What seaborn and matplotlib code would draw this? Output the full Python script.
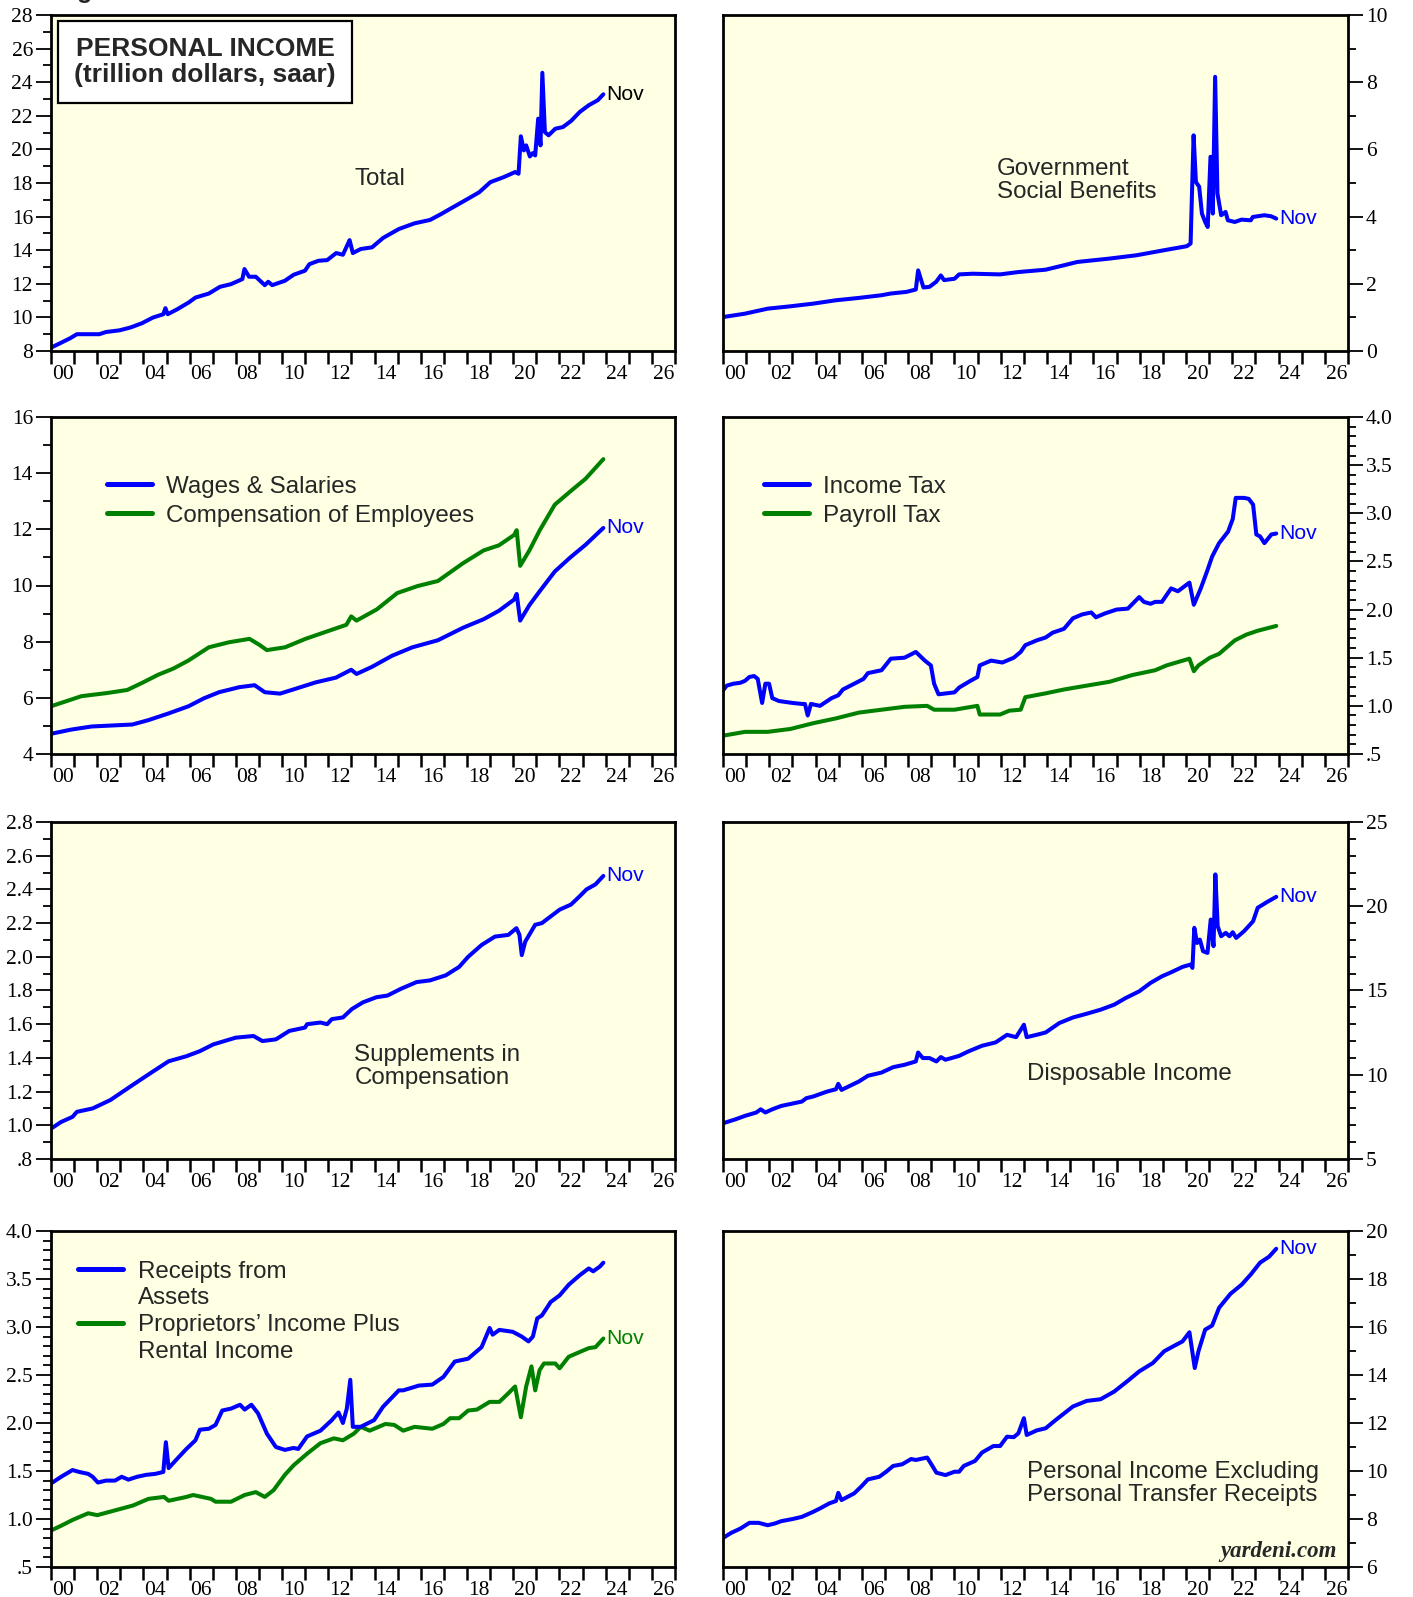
import matplotlib
matplotlib.use("Agg")
import matplotlib.pyplot as plt
import seaborn as sns
from matplotlib.ticker import MultipleLocator, FixedLocator, FixedFormatter, NullFormatter, FuncFormatter
from matplotlib.lines import Line2D

# =========================
# Data (decimal years)
# =========================
year_labels = ["00", "02", "04", "06", "08", "10", "12", "14", "16", "18", "20", "22", "24", "26"]

total_x = [2000.0, 2000.45, 2000.83, 2001.12, 2002.09, 2002.38, 2002.96, 2003.44, 2003.93, 2004.41,
           2004.86, 2004.95, 2005.05, 2005.47, 2005.96, 2006.25, 2006.83, 2007.31, 2007.79, 2008.28,
           2008.37, 2008.57, 2008.86, 2009.25, 2009.4, 2009.57, 2010.12, 2010.5, 2010.99, 2011.18,
           2011.57, 2011.95, 2012.34, 2012.63, 2012.92, 2013.06, 2013.4, 2013.89, 2014.37, 2015.05,
           2015.73, 2016.4, 2016.89, 2017.27, 2017.95, 2018.53, 2019.01, 2019.59, 2020.08, 2020.23,
           2020.33, 2020.46, 2020.56, 2020.72, 2020.85, 2020.95, 2021.08, 2021.18, 2021.26, 2021.37,
           2021.53, 2021.82, 2022.15, 2022.5, 2022.88, 2023.27, 2023.66, 2023.9]
total_y = [8.2, 8.5, 8.76, 9.0, 9.0, 9.13, 9.23, 9.4, 9.65, 9.99,
           10.19, 10.55, 10.19, 10.49, 10.89, 11.18, 11.42, 11.82, 11.98, 12.28,
           12.88, 12.42, 12.42, 11.92, 12.12, 11.92, 12.18, 12.54, 12.78, 13.17,
           13.37, 13.41, 13.83, 13.73, 14.6, 13.83, 14.07, 14.17, 14.73, 15.26,
           15.6, 15.8, 16.16, 16.46, 16.99, 17.45, 18.05, 18.35, 18.65, 18.55,
           20.78, 19.94, 20.24, 19.58, 19.78, 19.64, 21.83, 20.24, 24.56, 21.03,
           20.84, 21.23, 21.33, 21.69, 22.23, 22.63, 22.93, 23.28]

gov_x = [2000.0, 2000.94, 2001.93, 2002.91, 2003.9, 2004.88, 2005.87, 2006.85, 2007.24, 2007.93,
         2008.33, 2008.43, 2008.66, 2008.92, 2009.21, 2009.41, 2009.55, 2010.0, 2010.2, 2010.79,
         2011.97, 2012.76, 2013.94, 2014.72, 2015.31, 2016.69, 2017.87, 2019.06, 2020.04, 2020.2,
         2020.33, 2020.43, 2020.57, 2020.69, 2020.83, 2020.94, 2021.06, 2021.16, 2021.26, 2021.36,
         2021.52, 2021.71, 2021.81, 2022.11, 2022.4, 2022.8, 2022.89, 2023.39, 2023.68, 2023.9]
gov_y = [1.01, 1.11, 1.26, 1.33, 1.41, 1.51, 1.58, 1.66, 1.71, 1.76,
         1.83, 2.40, 1.89, 1.91, 2.06, 2.25, 2.11, 2.15, 2.28, 2.30,
         2.28, 2.35, 2.42, 2.55, 2.65, 2.75, 2.85, 3.0, 3.12, 3.2,
         6.42, 5.03, 4.89, 4.09, 3.84, 3.69, 5.78, 4.09, 8.16, 4.69,
         4.04, 4.14, 3.89, 3.84, 3.91, 3.89, 3.99, 4.04, 4.01, 3.94]

wages_x = [2000.0, 2000.88, 2001.76, 2003.52, 2004.19, 2005.07, 2005.95, 2006.61, 2007.27, 2008.15,
           2008.81, 2009.25, 2009.91, 2010.57, 2011.45, 2012.33, 2012.99, 2013.22, 2013.88, 2014.76,
           2015.64, 2016.74, 2017.84, 2018.72, 2019.38, 2020.04, 2020.15, 2020.3, 2020.7, 2021.15,
           2021.8, 2022.47, 2023.13, 2023.9]
wages_y = [4.72, 4.87, 4.98, 5.05, 5.2, 5.44, 5.7, 5.98, 6.2, 6.38,
           6.45, 6.2, 6.15, 6.32, 6.55, 6.72, 7.0, 6.85, 7.1, 7.5,
           7.8, 8.05, 8.5, 8.8, 9.1, 9.5, 9.7, 8.75, 9.3, 9.8,
           10.5, 11.0, 11.45, 12.05]

comp_x = [2000.0, 2000.66, 2001.32, 2002.42, 2003.3, 2003.96, 2004.63, 2005.29, 2005.95, 2006.83,
          2007.71, 2008.59, 2009.03, 2009.34, 2010.13, 2011.01, 2011.89, 2012.78, 2012.99, 2013.22,
          2014.1, 2014.98, 2015.86, 2016.74, 2017.84, 2018.72, 2019.38, 2020.04, 2020.15, 2020.3,
          2020.7, 2021.15, 2021.8, 2022.47, 2023.13, 2023.9]
comp_y = [5.7, 5.88, 6.06, 6.17, 6.28, 6.54, 6.82, 7.04, 7.33, 7.8,
          7.98, 8.1, 7.88, 7.7, 7.8, 8.1, 8.35, 8.6, 8.9, 8.75,
          9.15, 9.73, 9.98, 10.16, 10.8, 11.25, 11.43, 11.8, 11.97, 10.7,
          11.25, 11.97, 12.88, 13.35, 13.8, 14.5]

itax_x = [2000.0, 2000.16, 2000.45, 2000.75, 2000.95, 2001.14, 2001.34, 2001.5, 2001.69, 2001.83,
          2001.99, 2002.13, 2002.42, 2003.01, 2003.41, 2003.54, 2003.66, 2003.8, 2004.19, 2004.69,
          2004.98, 2005.18, 2005.67, 2006.07, 2006.26, 2006.85, 2007.25, 2007.84, 2008.33, 2008.72,
          2008.98, 2009.12, 2009.31, 2010.0, 2010.2, 2010.69, 2010.99, 2011.09, 2011.58, 2012.07,
          2012.56, 2012.86, 2013.06, 2013.55, 2013.94, 2014.24, 2014.73, 2015.12, 2015.52, 2015.91,
          2016.11, 2016.5, 2017.0, 2017.49, 2017.98, 2018.18, 2018.47, 2018.67, 2018.96, 2019.36,
          2019.65, 2020.15, 2020.34, 2020.64, 2020.93, 2021.13, 2021.43, 2021.82, 2022.02, 2022.15,
          2022.51, 2022.71, 2022.9, 2023.04, 2023.2, 2023.39, 2023.69, 2023.9]
itax_y = [1.16, 1.21, 1.23, 1.24, 1.26, 1.30, 1.31, 1.28, 1.03, 1.23,
          1.23, 1.08, 1.05, 1.03, 1.02, 1.02, 0.90, 1.02, 1.00, 1.08,
          1.11, 1.17, 1.23, 1.28, 1.34, 1.37, 1.49, 1.50, 1.56, 1.47,
          1.42, 1.23, 1.12, 1.14, 1.19, 1.26, 1.30, 1.42, 1.47, 1.45,
          1.50, 1.56, 1.63, 1.68, 1.71, 1.76, 1.80, 1.91, 1.95, 1.97,
          1.92, 1.96, 2.00, 2.01, 2.13, 2.08, 2.06, 2.08, 2.08, 2.22,
          2.19, 2.28, 2.05, 2.22, 2.41, 2.55, 2.69, 2.81, 2.94, 3.16,
          3.16, 3.15, 3.09, 2.78, 2.76, 2.69, 2.78, 2.79]

ptax_x = [2000.0, 2000.95, 2001.93, 2002.91, 2003.9, 2004.88, 2005.87, 2006.85, 2007.84, 2008.82,
          2009.12, 2010.0, 2010.99, 2011.09, 2011.97, 2012.37, 2012.86, 2013.06, 2013.94, 2014.73,
          2015.71, 2016.7, 2017.68, 2018.67, 2019.16, 2020.15, 2020.34, 2020.54, 2021.03, 2021.43,
          2022.11, 2022.61, 2023.1, 2023.9]
ptax_y = [0.69, 0.73, 0.73, 0.76, 0.82, 0.87, 0.93, 0.96, 0.99, 1.0,
          0.96, 0.96, 1.0, 0.91, 0.91, 0.95, 0.96, 1.09, 1.13, 1.17,
          1.21, 1.25, 1.32, 1.37, 1.42, 1.49, 1.36, 1.42, 1.5, 1.54,
          1.68, 1.74, 1.78, 1.83]

supp_x = [2000.0, 2000.44, 2000.93, 2001.12, 2001.8, 2002.57, 2003.54, 2004.31, 2005.09, 2005.86,
          2006.44, 2007.02, 2007.99, 2008.76, 2009.15, 2009.73, 2010.31, 2010.99, 2011.08, 2011.66,
          2011.95, 2012.15, 2012.63, 2013.02, 2013.5, 2014.08, 2014.56, 2015.14, 2015.82, 2016.4,
          2017.08, 2017.66, 2018.05, 2018.63, 2019.21, 2019.79, 2020.14, 2020.27, 2020.37, 2020.52,
          2020.95, 2021.24, 2022.01, 2022.5, 2022.88, 2023.17, 2023.56, 2023.9]
supp_y = [0.98, 1.02, 1.05, 1.08, 1.10, 1.15, 1.24, 1.31, 1.38, 1.41,
          1.44, 1.48, 1.52, 1.53, 1.50, 1.51, 1.56, 1.58, 1.60, 1.61,
          1.60, 1.63, 1.64, 1.69, 1.73, 1.76, 1.77, 1.81, 1.85, 1.86,
          1.89, 1.94, 2.0, 2.07, 2.12, 2.13, 2.17, 2.13, 2.01, 2.09,
          2.19, 2.2, 2.28, 2.31, 2.36, 2.40, 2.43, 2.48]

disp_x = [2000.0, 2000.55, 2000.95, 2001.44, 2001.63, 2001.83, 2002.13, 2002.52, 2003.41, 2003.6,
          2003.9, 2004.49, 2004.88, 2004.98, 2005.12, 2005.87, 2006.26, 2006.85, 2007.35, 2007.84,
          2008.33, 2008.43, 2008.63, 2008.92, 2009.22, 2009.41, 2009.61, 2010.2, 2010.59, 2011.19,
          2011.78, 2012.27, 2012.66, 2013.0, 2013.12, 2013.55, 2013.94, 2014.53, 2015.12, 2015.71,
          2016.31, 2016.9, 2017.39, 2017.98, 2018.47, 2018.96, 2019.36, 2019.85, 2020.2, 2020.28,
          2020.36, 2020.48, 2020.6, 2020.74, 2020.93, 2021.07, 2021.19, 2021.27, 2021.37, 2021.52,
          2021.72, 2021.88, 2022.02, 2022.17, 2022.51, 2022.9, 2023.1, 2023.49, 2023.9]
disp_y = [7.12, 7.36, 7.56, 7.76, 7.95, 7.76, 7.95, 8.15, 8.41, 8.61,
          8.71, 9.0, 9.14, 9.46, 9.1, 9.6, 9.94, 10.13, 10.45, 10.59,
          10.79, 11.32, 10.99, 10.99, 10.79, 11.05, 10.89, 11.12, 11.38, 11.72,
          11.92, 12.37, 12.23, 12.97, 12.23, 12.37, 12.51, 13.07, 13.4, 13.62,
          13.86, 14.16, 14.55, 14.95, 15.45, 15.84, 16.08, 16.4, 16.54, 16.34,
          18.72, 17.82, 18.02, 17.33, 17.23, 19.21, 17.63, 21.89, 18.82, 18.22,
          18.42, 18.22, 18.46, 18.12, 18.52, 19.11, 19.91, 20.24, 20.56]

rec_x = [2000.0, 2000.44, 2000.93, 2001.22, 2001.61, 2001.8, 2002.03, 2002.38, 2002.77, 2003.06,
         2003.35, 2003.73, 2004.12, 2004.51, 2004.86, 2004.97, 2005.09, 2005.47, 2005.86, 2006.25,
         2006.44, 2006.83, 2007.12, 2007.41, 2007.79, 2008.18, 2008.38, 2008.67, 2008.96, 2009.34,
         2009.73, 2010.12, 2010.5, 2010.7, 2011.08, 2011.66, 2012.15, 2012.44, 2012.63, 2012.8,
         2012.95, 2013.06, 2013.4, 2013.98, 2014.37, 2015.05, 2015.24, 2015.92, 2016.5, 2016.98,
         2017.47, 2018.05, 2018.63, 2018.98, 2019.11, 2019.4, 2019.98, 2020.37, 2020.66, 2020.85,
         2021.04, 2021.24, 2021.62, 2022.01, 2022.4, 2022.88, 2023.27, 2023.46, 2023.75, 2023.9]
rec_y = [1.37, 1.44, 1.51, 1.49, 1.47, 1.44, 1.38, 1.40, 1.40, 1.44,
         1.41, 1.44, 1.46, 1.47, 1.49, 1.80, 1.53, 1.63, 1.73, 1.82,
         1.93, 1.94, 1.98, 2.13, 2.15, 2.19, 2.14, 2.19, 2.10, 1.89,
         1.75, 1.72, 1.74, 1.73, 1.86, 1.92, 2.03, 2.11, 2.0, 2.15,
         2.45, 1.96, 1.96, 2.03, 2.17, 2.34, 2.34, 2.39, 2.40, 2.48,
         2.64, 2.67, 2.79, 2.99, 2.92, 2.97, 2.95, 2.90, 2.85, 2.90,
         3.09, 3.12, 3.26, 3.33, 3.44, 3.54, 3.61, 3.58, 3.63, 3.67]

prop_x = [2000.0, 2000.44, 2000.93, 2001.61, 2002.0, 2002.77, 2003.54, 2004.22, 2004.89, 2005.09,
          2005.86, 2006.15, 2006.92, 2007.12, 2007.79, 2008.38, 2008.86, 2009.25, 2009.63, 2010.12,
          2010.5, 2011.08, 2011.66, 2012.24, 2012.63, 2013.11, 2013.4, 2013.79, 2014.47, 2014.85,
          2015.24, 2015.73, 2016.5, 2016.98, 2017.27, 2017.66, 2018.05, 2018.43, 2018.98, 2019.4,
          2019.79, 2020.08, 2020.33, 2020.56, 2020.79, 2020.95, 2021.14, 2021.33, 2021.82, 2022.01,
          2022.4, 2022.88, 2023.27, 2023.56, 2023.9]
prop_y = [0.88, 0.93, 0.99, 1.06, 1.04, 1.09, 1.14, 1.21, 1.23, 1.19,
          1.23, 1.25, 1.21, 1.18, 1.18, 1.25, 1.28, 1.23, 1.30, 1.46,
          1.56, 1.68, 1.79, 1.84, 1.82, 1.89, 1.96, 1.92, 1.99, 1.98,
          1.92, 1.96, 1.94, 1.99, 2.05, 2.05, 2.13, 2.14, 2.22, 2.22,
          2.31, 2.38, 2.06, 2.38, 2.59, 2.34, 2.55, 2.62, 2.62, 2.57,
          2.69, 2.74, 2.78, 2.79, 2.88]

xt_x = [2000.0, 2000.35, 2000.75, 2001.14, 2001.54, 2001.93, 2002.23, 2002.52, 2003.01, 2003.41,
        2003.9, 2004.19, 2004.59, 2004.88, 2004.98, 2005.12, 2005.67, 2005.97, 2006.26, 2006.75,
        2007.05, 2007.35, 2007.74, 2008.13, 2008.33, 2008.82, 2009.02, 2009.22, 2009.61, 2010.0,
        2010.2, 2010.4, 2010.89, 2011.19, 2011.68, 2011.97, 2012.27, 2012.56, 2012.76, 2013.0,
        2013.12, 2013.55, 2013.94, 2014.34, 2015.12, 2015.71, 2016.31, 2016.9, 2017.49, 2017.98,
        2018.57, 2019.06, 2019.46, 2019.85, 2020.15, 2020.38, 2020.54, 2020.83, 2021.13, 2021.43,
        2021.92, 2022.41, 2022.8, 2023.2, 2023.59, 2023.9]
xt_y = [7.21, 7.42, 7.6, 7.84, 7.84, 7.74, 7.81, 7.91, 8.0, 8.09,
        8.3, 8.44, 8.65, 8.75, 9.09, 8.79, 9.07, 9.35, 9.65, 9.76,
        9.97, 10.21, 10.28, 10.5, 10.46, 10.56, 10.25, 9.93, 9.83, 9.97,
        9.97, 10.21, 10.42, 10.77, 11.04, 11.04, 11.43, 11.41, 11.57, 12.2,
        11.5, 11.69, 11.78, 12.1, 12.69, 12.92, 12.99, 13.31, 13.76, 14.15,
        14.5, 14.99, 15.2, 15.4, 15.78, 14.29, 14.99, 15.89, 16.06, 16.8,
        17.38, 17.77, 18.19, 18.68, 18.93, 19.26]

# =========================
# Style
# =========================
BLUE = "#0000FF"
GREEN = "#008000"
BG = "#FFFFE3"
SANS = "Liberation Sans"
LW = 2.9
TXT = 17.4
TICK = 15.5

sns.set_theme(style="ticks")
plt.rcParams["font.family"] = ["Liberation Serif", "DejaVu Serif"]

W, H = 1413, 1597
fig = plt.figure(figsize=(W / 100, H / 100), dpi=100)

cols = [(51, 675), (723, 1348)]
rows = [(15, 351), (417, 754), (822, 1159), (1231, 1567)]


def make_ax(r, c):
    (l, rr), (t, b) = cols[c], rows[r]
    return fig.add_axes([l / W, 1 - b / H, (rr - l) / W, (b - t) / H])


def fmt_y(v, _):
    s = f"{v:.1f}"
    return s[1:] if s.startswith("0.") else s


def style(ax, ylo, yhi, major, minor, right=False, intfmt=False):
    ax.set_facecolor(BG)
    ax.set_xlim(2000, 2027)
    ax.set_ylim(ylo, yhi)
    for s in ax.spines.values():
        s.set_visible(True)
        s.set_linewidth(2)
        s.set_color("black")
    ax.grid(False)
    ax.set_xlabel("")
    ax.set_ylabel("")
    # years: a tick every year, labels on even years between the ticks
    ax.xaxis.set_major_locator(FixedLocator(list(range(2000, 2028))))
    ax.xaxis.set_major_formatter(NullFormatter())
    ax.xaxis.set_minor_locator(FixedLocator([y + 0.5 for y in range(2000, 2027, 2)]))
    ax.xaxis.set_minor_formatter(FixedFormatter(year_labels))
    ax.tick_params(axis="x", which="major", direction="out", length=9.5, width=1.8, color="black")
    ax.tick_params(axis="x", which="minor", direction="out", length=0, pad=10,
                   labelsize=TICK, labelcolor="black")
    ax.yaxis.set_major_locator(MultipleLocator(major))
    ax.yaxis.set_minor_locator(MultipleLocator(minor))
    if intfmt:
        ax.yaxis.set_major_formatter(FuncFormatter(lambda v, _: f"{v:.0f}"))
    else:
        ax.yaxis.set_major_formatter(FuncFormatter(fmt_y))
    if right:
        ax.yaxis.tick_right()
    ax.tick_params(axis="y", which="major", direction="out", length=11, width=1.3, color="black",
                   pad=2, labelsize=TICK, labelcolor="black")
    ax.tick_params(axis="y", which="minor", direction="out", length=5.5, width=1.3, color="black")


def line(ax, x, y, color):
    sns.lineplot(x=x, y=y, ax=ax, color=color, linewidth=LW, sort=False, estimator=None)


def nov(ax, x, y, color):
    ax.annotate("Nov", xy=(x[-1], y[-1]), xytext=(2, 0), textcoords="offset points",
                ha="left", va="center", color=color, fontsize=15.2, family=SANS)


def legend(ax, labels, colors, anchor, spacing):
    handles = [Line2D([], [], color=c, lw=3.6) if c else Line2D([], [], color="none")
               for c in colors]
    ax.legend(handles, labels, loc="upper left", bbox_to_anchor=anchor, frameon=False,
              prop={"family": SANS, "size": TXT}, handlelength=1.85, handletextpad=0.6,
              labelspacing=spacing, borderpad=0, borderaxespad=0)


# =========================
# Row 1
# =========================
ax = make_ax(0, 0)
line(ax, total_x, total_y, BLUE)
style(ax, 8, 28, 2, 1, intfmt=True)
nov(ax, total_x, total_y, "black")
ax.text(0.486, 0.513, "Total", transform=ax.transAxes, ha="left", va="center",
        fontsize=TXT, family=SANS)
ax.text(0.247, 0.86, "PERSONAL INCOME\n(trillion dollars, saar)", transform=ax.transAxes,
        ha="center", va="center", fontsize=19, fontweight="bold", family=SANS, linespacing=1.1,
        bbox=dict(boxstyle="square,pad=0.6", fc="white", ec="black", lw=1.6))

ax = make_ax(0, 1)
line(ax, gov_x, gov_y, BLUE)
style(ax, 0, 10, 2, 1, right=True, intfmt=True)
nov(ax, gov_x, gov_y, BLUE)
ax.text(0.438, 0.507, "Government\nSocial Benefits", transform=ax.transAxes, ha="left",
        va="center", fontsize=TXT, family=SANS, linespacing=1.08)

# =========================
# Row 2
# =========================
ax = make_ax(1, 0)
line(ax, comp_x, comp_y, GREEN)
line(ax, wages_x, wages_y, BLUE)
style(ax, 4, 16, 2, 1, intfmt=True)
nov(ax, wages_x, wages_y, BLUE)
legend(ax, ["Wages & Salaries", "Compensation of Employees"], [BLUE, GREEN], (0.09, 0.826), 0.3)

ax = make_ax(1, 1)
line(ax, ptax_x, ptax_y, GREEN)
line(ax, itax_x, itax_y, BLUE)
style(ax, 0.5, 4.0, 0.5, 0.1, right=True)
nov(ax, itax_x, itax_y, BLUE)
legend(ax, ["Income Tax", "Payroll Tax"], [BLUE, GREEN], (0.066, 0.826), 0.3)

# =========================
# Row 3
# =========================
ax = make_ax(2, 0)
line(ax, supp_x, supp_y, BLUE)
style(ax, 0.8, 2.8, 0.2, 0.1)
nov(ax, supp_x, supp_y, BLUE)
ax.text(0.486, 0.274, "Supplements in\nCompensation", transform=ax.transAxes, ha="left",
        va="center", fontsize=TXT, family=SANS, linespacing=1.08)

ax = make_ax(2, 1)
line(ax, disp_x, disp_y, BLUE)
style(ax, 5, 25, 5, 1, right=True, intfmt=True)
nov(ax, disp_x, disp_y, BLUE)
ax.text(0.486, 0.253, "Disposable Income", transform=ax.transAxes, ha="left", va="center",
        fontsize=TXT, family=SANS)

# =========================
# Row 4
# =========================
ax = make_ax(3, 0)
line(ax, prop_x, prop_y, GREEN)
line(ax, rec_x, rec_y, BLUE)
style(ax, 0.5, 4.0, 0.5, 0.1)
nov(ax, prop_x, prop_y, GREEN)
legend(ax, ["Receipts from", "Assets", "Proprietors\u2019 Income Plus", "Rental Income"],
       [BLUE, None, GREEN, None], (0.044, 0.912), 0.2)

ax = make_ax(3, 1)
line(ax, xt_x, xt_y, BLUE)
style(ax, 6, 20, 2, 1, right=True, intfmt=True)
nov(ax, xt_x, xt_y, BLUE)
ax.text(0.486, 0.248, "Personal Income Excluding\nPersonal Transfer Receipts",
        transform=ax.transAxes, ha="left", va="center", fontsize=TXT, family=SANS,
        linespacing=1.08)
ax.text(0.982, 0.045, "yardeni.com", transform=ax.transAxes, ha="right", va="center",
        fontsize=16.5, fontweight="bold", fontstyle="italic", family="Liberation Serif")

# cut-off figure title at the very top, as in the source page
fig.text(55 / W, 1 + 2 / H, "Figure 1.", ha="left", va="baseline", fontsize=18,
         fontweight="bold", family=SANS)

fig.savefig("out.png", dpi=100, facecolor="white")
